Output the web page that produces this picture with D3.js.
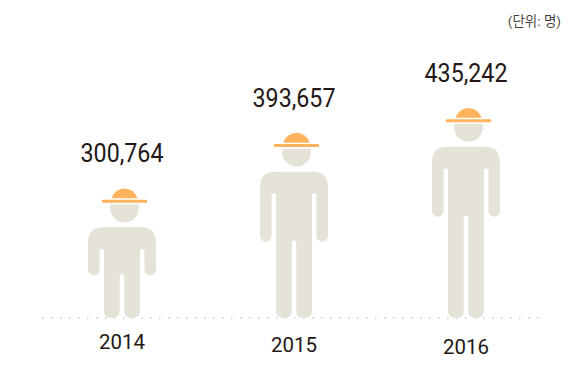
<!DOCTYPE html>
<html lang="ko">
<head>
<meta charset="utf-8">
<style>
  html, body { margin: 0; padding: 0; background: #fff; }
  svg { display: block; }
  text { font-family: Roboto, "Noto Sans CJK KR", sans-serif; fill: #231815; }
</style>
<script src="https://cdn.jsdelivr.net/npm/d3@7/dist/d3.min.js"></script>
</head>
<body>
<script>
const years = ["2014", "2015", "2016"];
const visitors = [300764, 393657, 435242];
const unitLabel = "(단위: 명)";

const w = 586, h = 375;
const baseY = 318;
const headShift = 2.5; // head and hat sit a bit right of the body
const bodyColor = "#e5e3d8";
const hatColor = "#ffb35c";

const svg = d3.select("body").append("svg")
  .attr("width", w)
  .attr("height", h);

const x = d3.scalePoint().domain(years).range([122, 466]);
// the figures do not start from zero, height only shows the difference
const y = d3.scaleLinear().domain([86000, 500000]).range([baseY, 70]);

// Dotted ground line
svg.append("line")
  .attr("x1", 42).attr("x2", 544)
  .attr("y1", baseY).attr("y2", baseY)
  .attr("stroke", "#c9c9c4")
  .attr("stroke-width", 1.5)
  .attr("stroke-dasharray", "1.5 7.5");

function bodyPath(cx, top) {
  const p = d3.path();
  const armEnd = top + Math.min(70, (baseY - top) * 0.53);
  const crotch = armEnd - 1;
  const pit = top + 22;
  p.moveTo(cx - 34, top + 17);
  p.bezierCurveTo(cx - 34, top + 4, cx - 29, top, cx - 18, top);
  p.lineTo(cx + 18, top);
  p.bezierCurveTo(cx + 29, top, cx + 34, top + 4, cx + 34, top + 17);
  p.lineTo(cx + 34, armEnd - 5.8);
  p.arc(cx + 28.2, armEnd - 5.8, 5.8, 0, Math.PI);
  p.lineTo(cx + 22.4, pit);
  p.lineTo(cx + 18, pit);
  p.lineTo(cx + 18, baseY - 7);
  p.bezierCurveTo(cx + 18, baseY - 2, cx + 14, baseY, cx + 10, baseY);
  p.bezierCurveTo(cx + 6, baseY, cx + 2.2, baseY - 2, cx + 2.2, baseY - 7);
  p.lineTo(cx + 2.2, crotch);
  p.lineTo(cx - 2.2, crotch);
  p.lineTo(cx - 2.2, baseY - 7);
  p.bezierCurveTo(cx - 2.2, baseY - 2, cx - 6, baseY, cx - 10, baseY);
  p.bezierCurveTo(cx - 14, baseY, cx - 18, baseY - 2, cx - 18, baseY - 7);
  p.lineTo(cx - 18, pit);
  p.lineTo(cx - 22.4, pit);
  p.lineTo(cx - 22.4, armEnd - 5.8);
  p.arc(cx - 28.2, armEnd - 5.8, 5.8, 0, Math.PI);
  p.closePath();
  return p.toString();
}

function headPath(cx, top) {
  // circle cut flat under the brim
  const r = 14.4, flat = top + 15, cy = top + 18.6;
  const dx = Math.sqrt(r * r - (cy - flat) * (cy - flat));
  return `M${cx - dx},${flat}L${cx + dx},${flat}A${r},${r} 0 1 1 ${cx - dx},${flat}Z`;
}

function domePath(cx, top) {
  const bottom = top + 9;
  return `M${cx - 13},${bottom}A13.5,13.5 0 0 1 ${cx + 13},${bottom}Z`;
}

const people = svg.selectAll(".person")
  .data(years.map((year, i) => ({ year, value: visitors[i], i })))
  .enter()
  .append("g")
  .attr("class", "person");

// shoulders sit a fixed distance under the hat top
people.append("path")
  .attr("d", d => bodyPath(x(d.year), y(d.value) + 38))
  .attr("fill", bodyColor);

people.append("path")
  .attr("d", d => headPath(x(d.year) + headShift, y(d.value)))
  .attr("fill", bodyColor);

people.append("path")
  .attr("d", d => domePath(x(d.year) + headShift, y(d.value)))
  .attr("fill", hatColor);

people.append("rect")
  .attr("x", d => x(d.year) + headShift - 22.7)
  .attr("y", d => y(d.value) + 10.4)
  .attr("width", 45.4)
  .attr("height", 3)
  .attr("rx", 1)
  .attr("fill", hatColor);

people.append("text")
  .attr("x", d => x(d.year))
  .attr("y", d => y(d.value) - 27)
  .attr("text-anchor", "middle")
  .attr("font-size", 25)
  .attr("textLength", 83)
  .attr("lengthAdjust", "spacingAndGlyphs")
  .text(d => d3.format(",")(d.value));

// year labels step down a little in the original
people.append("text")
  .attr("x", d => x(d.year))
  .attr("y", d => 349 + d.i * 2.5)
  .attr("text-anchor", "middle")
  .attr("font-size", 21)
  .attr("textLength", 46)
  .attr("lengthAdjust", "spacingAndGlyphs")
  .text(d => d.year);

svg.append("text")
  .attr("x", 561)
  .attr("y", 26)
  .attr("text-anchor", "end")
  .attr("font-size", 13.5)
  .attr("fill-opacity", 0.85)
  .text(unitLabel);
</script>
</body>
</html>
